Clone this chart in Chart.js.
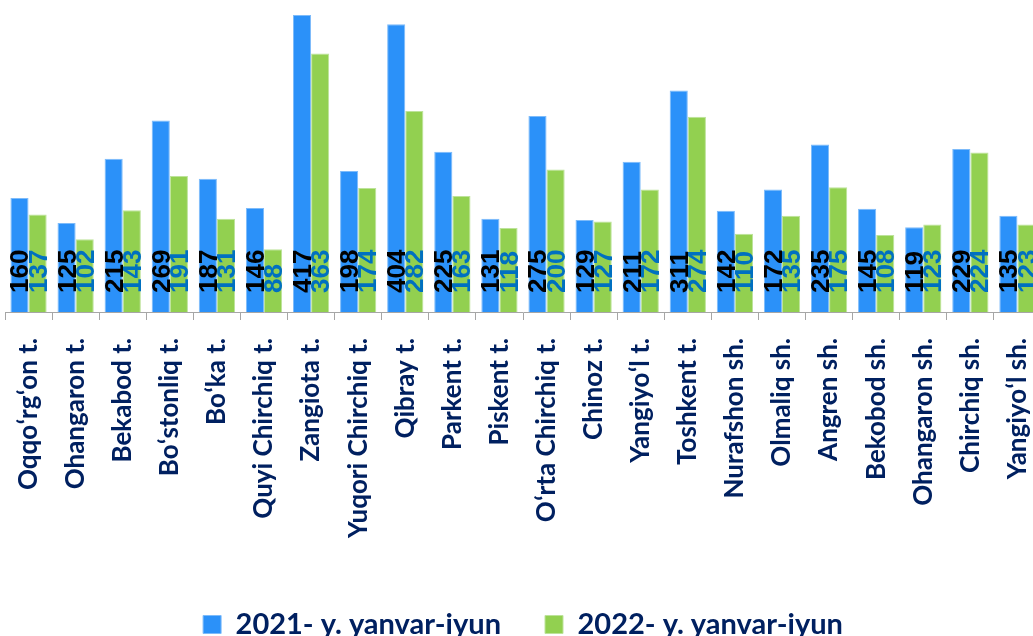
<!DOCTYPE html>
<html>
<head>
<meta charset="utf-8">
<script src="https://cdn.jsdelivr.net/npm/chart.js@4/dist/chart.umd.min.js"></script>
<style>
  html, body { margin: 0; background: #fff; overflow: hidden; }
  /* the original picture is cropped on the right, so the canvas is a bit wider than the window */
  #wrap { width: 1033px; height: 636px; overflow: hidden; }
</style>
</head>
<body>
<div id="wrap"><canvas id="chart" width="1041" height="636"></canvas></div>
<script>
const categories = [
  'Oqqoʻrgʻon t.', 'Ohangaron t.', 'Bekabod t.', 'Boʻstonliq t.', 'Boʻka t.',
  'Quyi Chirchiq t.', 'Zangiota t.', 'Yuqori Chirchiq t.', 'Qibray t.', 'Parkent t.',
  'Piskent t.', 'Oʻrta Chirchiq t.', 'Chinoz t.', 'Yangiyoʻl t.', 'Toshkent t.',
  'Nurafshon sh.', 'Olmaliq sh.', 'Angren sh.', 'Bekobod sh.', 'Ohangaron sh.',
  'Chirchiq sh.', 'Yangiyoʻl sh.'
];
const series2021 = [160, 125, 215, 269, 187, 146, 417, 198, 404, 225, 131, 275, 129, 211, 311, 142, 172, 235, 145, 119, 229, 135];
const series2022 = [137, 102, 143, 191, 131, 88, 363, 174, 282, 163, 118, 200, 127, 172, 274, 110, 135, 175, 108, 123, 224, 123];
const seriesNames = ['2021- y. yanvar-iyun', '2022- y. yanvar-iyun'];

// value labels, rotated, sitting near the bottom of each bar
const barLabels = {
  id: 'barLabels',
  afterDatasetsDraw(chart) {
    const ctx = chart.ctx;
    const base = chart.scales.y.getPixelForValue(0);
    const colors = ['#000000', '#0070C0'];
    ctx.save();
    ctx.font = 'bold 26px "Liberation Sans", Arial, sans-serif';
    ctx.textAlign = 'left';
    ctx.textBaseline = 'alphabetic';
    chart.data.datasets.forEach((ds, i) => {
      const meta = chart.getDatasetMeta(i);
      ctx.fillStyle = colors[i];
      meta.data.forEach((bar, j) => {
        ctx.save();
        ctx.translate(bar.x, base - 19);
        ctx.rotate(-Math.PI / 2);
        ctx.fillText(String(ds.data[j]), 0, 9);
        ctx.restore();
      });
    });
    ctx.restore();
  }
};

new Chart(document.getElementById('chart'), {
  type: 'bar',
  data: {
    labels: categories,
    datasets: [
      {
        label: seriesNames[0],
        data: series2021,
        backgroundColor: '#2B91F9',
        borderColor: '#7DBBFA',
        borderWidth: 1,
        borderSkipped: 'bottom'
      },
      {
        label: seriesNames[1],
        data: series2022,
        backgroundColor: '#92D050',
        borderColor: '#BDE39A',
        borderWidth: 1,
        borderSkipped: 'bottom'
      }
    ]
  },
  options: {
    responsive: false,
    animation: false,
    layout: { padding: { left: 5, right: 0, top: 0, bottom: -13 } },
    datasets: {
      bar: { categoryPercentage: 0.77, barPercentage: 1.0 }
    },
    scales: {
      x: {
        grid: {
          display: true,
          drawOnChartArea: false,
          drawTicks: true,
          tickLength: 8,
          color: '#A6A6A6'
        },
        border: { display: true, color: '#A6A6A6', width: 1 },
        ticks: {
          autoSkip: false,
          maxRotation: 90,
          minRotation: 90,
          padding: 18,
          color: '#002060',
          font: { family: 'Lato', weight: 'bold', size: 26 }
        },
        afterFit(scale) {
          scale.height = 254;
          scale.paddingLeft = 0;
          scale.paddingRight = 0;
        }
      },
      y: {
        display: false,
        min: 0,
        max: 438
      }
    },
    plugins: {
      tooltip: { enabled: false },
      legend: {
        position: 'bottom',
        labels: {
          boxWidth: 18,
          boxHeight: 18,
          padding: 44,
          color: '#002060',
          font: { family: 'Lato', weight: 'bold', size: 29, lineHeight: 1 }
        }
      }
    }
  },
  plugins: [barLabels]
});
</script>
</body>
</html>
